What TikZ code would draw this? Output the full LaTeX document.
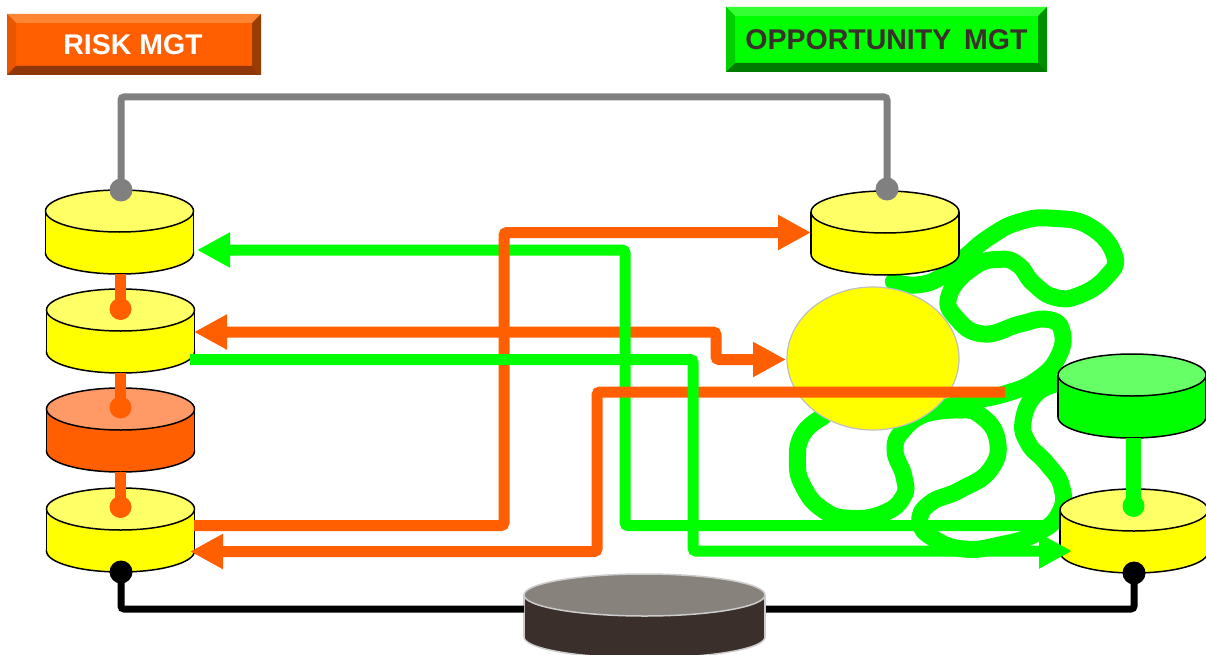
\documentclass[tikz,border=0pt]{standalone}
\usepackage{fontspec}
\setmainfont{Liberation Sans}
\usetikzlibrary{arrows.meta,shapes.geometric}
\definecolor{org}{HTML}{FF5F00}
\definecolor{grn}{HTML}{00FF00}
\definecolor{gry}{HTML}{808080}
\definecolor{yel}{HTML}{FFFF00}
\definecolor{yeltop}{HTML}{FFFF66}
\definecolor{orgtop}{HTML}{FF9966}
\definecolor{grntop}{HTML}{66FF66}
\definecolor{dark}{HTML}{3A2F2A}
\definecolor{darktop}{HTML}{87827C}
\definecolor{oT}{HTML}{FF8533}
\definecolor{oL}{HTML}{E85700}
\definecolor{oR}{HTML}{993D00}
\definecolor{oB}{HTML}{8F3708}
\definecolor{gT}{HTML}{33FF33}
\definecolor{gL}{HTML}{00D000}
\definecolor{gR}{HTML}{008F00}
\definecolor{gB}{HTML}{007A00}
\tikzset{
  wire/.style={line width=11pt,rounded corners=3pt},
  thinwire/.style={line width=7pt,rounded corners=3pt},
  bigtip/.style={-{Triangle[length=33pt,width=33pt]}},
  bothtips/.style={{Triangle[length=33pt,width=33pt]}-{Triangle[length=33pt,width=33pt]}},
  squiggle/.style={draw=grn,line width=17pt,line cap=round,line join=round},
  btntext/.style={font=\bfseries\fontsize{28.5}{30}\selectfont,inner sep=0pt,anchor=center}
}
% name, cx, cy (top ellipse centre), top colour, side colour, outline, half width, half height, body height
\newcommand\cyl[9]{%
  \begin{scope}[shift={(#2,#3)}]
    \draw[#6,line width=1.5pt,fill=#5] (0,#9) ellipse [x radius=#7pt,y radius=#8pt];
    \fill[#5] (-#7,0) rectangle (#7,#9);
    \draw[#6,line width=1.5pt] (-#7,0) -- (-#7,#9) (#7,0) -- (#7,#9);
    \draw[#6,line width=1.5pt,fill=#4] (0,0) ellipse [x radius=#7pt,y radius=#8pt];
    \coordinate (#1c) at (0,0);
  \end{scope}}
\newcommand\bevelbox[9]{% x1 y1 x2 y2, top left right bottom face
  \fill[#9] (#1,#2) rectangle (#3,#4);
  \fill[#5] (#1,#2) -- (#3,#2) -- (#3-9,#2+9) -- (#1+9,#2+9) -- cycle;
  \fill[#6] (#1,#2) -- (#1+9,#2+9) -- (#1+9,#4-9) -- (#1,#4) -- cycle;
  \fill[#7] (#3,#2) -- (#3-9,#2+9) -- (#3-9,#4-9) -- (#3,#4) -- cycle;
  \fill[#8] (#1,#4) -- (#1+9,#4-9) -- (#3-9,#4-9) -- (#3,#4) -- cycle;}
\begin{document}
\begin{tikzpicture}[x=1pt,y=-1pt]
\clip (0,0) rectangle (1206,655);
\fill[white] (0,0) rectangle (1206,655);

% buttons
\bevelbox{7}{14}{261}{75}{oT}{oL}{oR}{oB}{org}
\node[btntext,text=white] (risk) at (133,44.5) {RISK MGT};
\bevelbox{726}{7}{1047}{72}{gT}{gL}{gR}{gB}{grn}
\node[btntext,text=dark] (opp) at (886.5,39.5) {OPPORTUNITY\hspace{5pt} MGT};

% squiggle (behind everything on the right)
\begin{scope}[shift={(760,180)},x=0.3333pt,y=-0.3333pt]
  \draw[squiggle] plot[smooth,tension=0.8] coordinates {
    (400,305) (470,315) (545,290) (610,235) (690,170) (780,125) (880,115)
    (990,140) (1063,225) (1040,290) (960,345) (885,352) (820,310) (775,255)
    (720,238) (640,262) (568,345) (590,415) (670,462) (780,432)
    (860,418) (905,450) (895,530) (830,600) (740,640) (630,665) (500,700)
    (430,750) (405,810) (432,890) (430,950) (370,1000) (270,1015) (190,990)
    (130,920) (112,840) (130,760) (190,710)};
  \draw[squiggle] plot[smooth,tension=0.8] coordinates {
    (500,700) (590,690) (660,705) (712,780) (690,870) (600,930) (510,970) (480,1025)
    (520,1075) (610,1107) (720,1095) (830,1060) (898,1000) (905,920) (860,850)
    (805,790) (790,720) (830,640) (900,610)};
\end{scope}

% cylinders
\cyl{A}{119.5}{211}{yeltop}{yel}{black}{74}{21}{42}
\cyl{B}{120.5}{310}{yeltop}{yel}{black}{74}{21}{42}
\cyl{C}{120.5}{409}{orgtop}{org}{black}{74}{21}{42}
\cyl{D}{120.5}{509}{yeltop}{yel}{black}{74}{21}{42}
\cyl{E}{885}{212}{yeltop}{yel}{black}{74}{21}{42}
\cyl{F}{1132}{375}{grntop}{grn}{black}{74}{21}{42}
\cyl{G}{1134}{510}{yeltop}{yel}{black}{74}{21}{42}
\cyl{H}{644.5}{595}{darktop}{dark}{black!20}{120.5}{21}{42}

% ball (node)
\node[ellipse,draw=black!25,fill=yel,line width=1.2pt,minimum width=172pt,minimum height=143pt,inner sep=0pt] (ball) at (873,358.5) {};

% vertical links
\draw[org,line width=11pt] (120.5,274) -- (120.5,309);
\draw[org,line width=11pt] (120.5,373) -- (120.5,407);
\draw[org,line width=11pt] (120.5,472) -- (120.5,507);
\draw[grn,line width=15pt] (1133,438) -- (1133,506);
\fill[org] (120.5,309) circle (11pt) (120.5,407.5) circle (11pt) (120.5,507) circle (11pt);
\fill[grn] (1133.5,506) circle (11pt);

% gray and black connectors
\coordinate (gA) at (121,190); \coordinate (gE) at (887,189);
\draw[gry,thinwire] (gA) -- (121,97) -- (887,97) -- (gE);
\fill[gry] (gA) circle (11.5pt) (gE) circle (11.5pt);
\coordinate (kD) at (121,572); \coordinate (kG) at (1134,573);
\coordinate (kHl) at (524,609); \coordinate (kHr) at (766,609);
\draw[black,thinwire] (kD) -- (121,609) -- (kHl);
\draw[black,thinwire] (kHr) -- (1134,609) -- (kG);
\fill[black] (kD) circle (11.5pt) (kG) circle (11.5pt);

% horizontal wires, in stacking order
\coordinate (o2s) at (786,359.5); \coordinate (o2e) at (194,332);
\draw[org,wire,bothtips] (o2s) -- (716,359.5) -- (716,332) -- (o2e);

\coordinate (g1e) at (197,250); \coordinate (g1s) at (1055,525.5);
\draw[grn,wire,bigtip] (g1s) -- (625,525.5) -- (625,250) -- (g1e);

\coordinate (o1s) at (194,525.5); \coordinate (o1e) at (811,232.5);
\draw[org,wire,bigtip] (o1s) -- (504,525.5) -- (504,232.5) -- (o1e);

\coordinate (o3s) at (1005,392); \coordinate (o3e) at (190,551.5);
\draw[org,wire,bigtip] (o3s) -- (597,392) -- (597,551.5) -- (o3e);

\coordinate (g2s) at (190,359.5); \coordinate (g2e) at (1072,551);
\draw[grn,wire,bigtip] (g2s) -- (693,359.5) -- (693,551) -- (g2e);
\end{tikzpicture}
\end{document}
